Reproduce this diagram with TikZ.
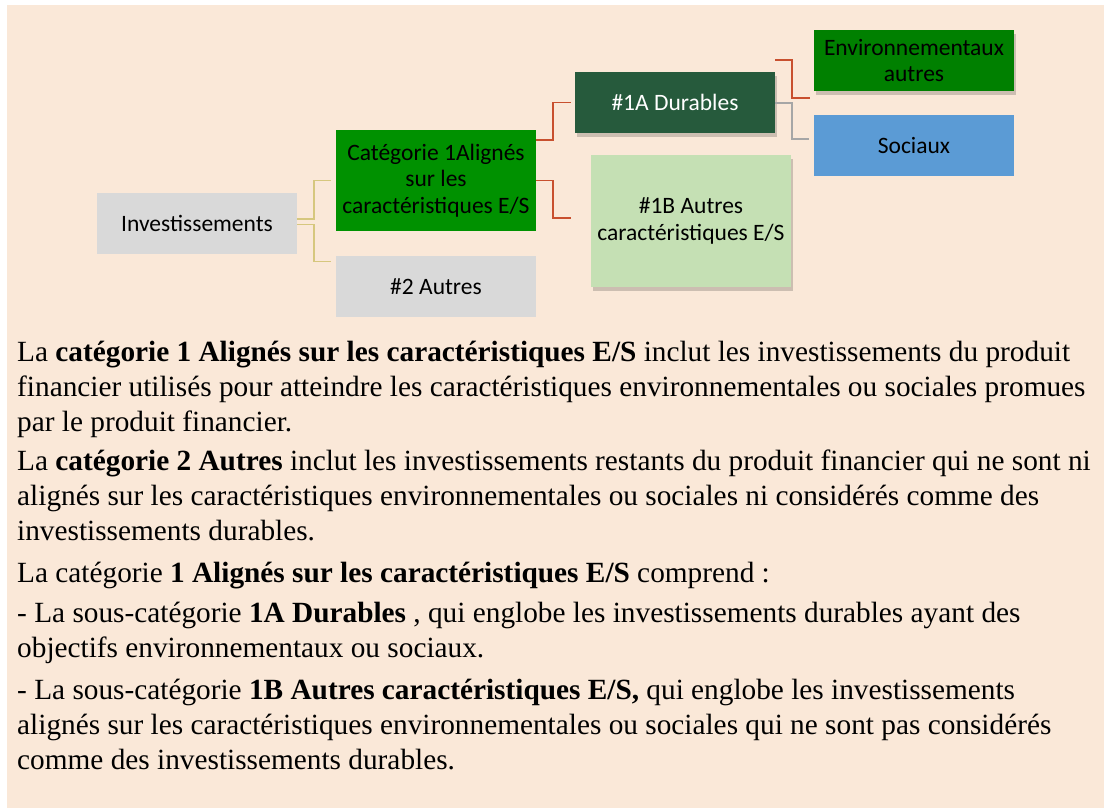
\documentclass[tikz,border=0pt]{standalone}
\usepackage{fontspec}
\setmainfont{Liberation Serif}
\newfontfamily\carlito{Carlito}
\usetikzlibrary{calc,shadows}
\definecolor{bg}{HTML}{FAE8D8}
\definecolor{boxgray}{HTML}{D9D9D9}
\definecolor{catgreen}{HTML}{009100}
\definecolor{envgreen}{HTML}{008000}
\definecolor{darkgreen}{HTML}{265A3C}
\definecolor{lightgreen}{HTML}{C5E0B4}
\definecolor{socblue}{HTML}{5B9BD5}
\definecolor{redline}{HTML}{C8502F}
\definecolor{yelline}{HTML}{D6C77E}
\definecolor{grayline}{HTML}{A6A6A6}
\begin{document}
\begin{tikzpicture}[x=1pt,y=-1pt,
  box/.style={inner sep=0pt, minimum width=200pt, align=center,
    font=\carlito\fontsize{23.5}{26.5}\selectfont},
  shad/.style={drop shadow={shadow xshift=1.5pt, shadow yshift=-3.5pt, opacity=0.18, fill=black}},
  para/.style={anchor=base west, inner sep=0pt, font=\fontsize{29.3}{35}\selectfont},
  redc/.style={draw=redline, line width=1.6pt},
  yelc/.style={draw=yelline, line width=1.6pt},
  grayc/.style={draw=grayline, line width=1.6pt}]
\useasboundingbox (0,0) rectangle (1106,811);
\fill[bg] (7,5) rectangle (1104,808);

% boxes
\node[box, fill=boxgray, minimum height=61pt] (inv) at (197,223.5) {Investissements};
\node[box, fill=catgreen, minimum height=101pt] (cat1) at (436,180.5) {Catégorie 1Alignés\\sur les\\caractéristiques E/S};
\node[box, fill=boxgray, minimum height=61pt] (aut2) at (436,286.5) {\#2 Autres};
\node[box, shad, fill=darkgreen, text=white, minimum height=61pt] (d1a) at (675,102.5) {\#1A Durables};
\node[box, shad, fill=lightgreen, minimum height=132pt] (o1b) at (691,221) {\#1B Autres\\caractéristiques E/S};
\node[box, shad, fill=envgreen, minimum height=61pt] (env) at (914,60.5) {Environnementaux\\autres};
\node[box, fill=socblue, minimum height=61pt] (soc) at (914,145.5) {Sociaux};

% connectors
\draw[yelc] ($(inv.east)+(0,-4.5)$) -- ++(17,0) |- ($(cat1.west)+(-5,0)$);
\draw[yelc] ($(inv.east)+(0,1)$) -- ++(17,0) |- ($(aut2.west)+(-5,-25)$);
\draw[redc] ($(cat1.east)+(0,-40.5)$) -- ++(17,0) |- ($(d1a.west)+(-4,0)$);
\draw[redc] (cat1.east) -- ++(17,0) |- ($(o1b.west)+(-20,-3)$);
\draw[redc] ($(d1a.east)+(0,-42.5)$) -- ++(17,0) |- ($(env.west)+(-4,37.5)$);
\draw[grayc] ($(d1a.east)+(0,0.5)$) -- ++(17,0) |- ($(soc.west)+(-5,-6.5)$);

% text
\node[para] (p1a) at (17,361) {La \textbf{catégorie 1 Alignés sur les caractéristiques E/S} inclut les investissements du produit};
\node[para] (p1b) at (17,396) {financier utilisés pour atteindre les caractéristiques environnementales ou sociales promues};
\node[para] (p1c) at (17,431) {par le produit financier.};
\node[para] (p2a) at (17,470) {La \textbf{catégorie 2 Autres} inclut les investissements restants du produit financier qui ne sont ni};
\node[para] (p2b) at (17,505) {alignés sur les caractéristiques environnementales ou sociales ni considérés comme des};
\node[para] (p2c) at (17,540) {investissements durables.};
\node[para] (p3a) at (17,582) {La catégorie \textbf{1 Alignés sur les caractéristiques E/S} comprend :};
\node[para] (p4a) at (17,622) {- La sous-catégorie \textbf{1A Durables} , qui englobe les investissements durables ayant des};
\node[para] (p4b) at (17,657) {objectifs environnementaux ou sociaux.};
\node[para] (p5a) at (17,699) {- La sous-catégorie \textbf{1B Autres caractéristiques E/S,} qui englobe les investissements};
\node[para] (p5b) at (17,734) {alignés sur les caractéristiques environnementales ou sociales qui ne sont pas considérés};
\node[para] (p5c) at (17,769) {comme des investissements durables.};
\end{tikzpicture}
\end{document}
